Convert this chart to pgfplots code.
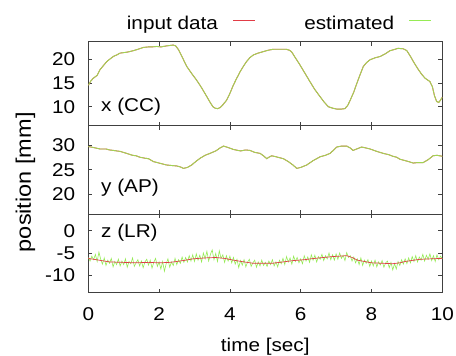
\documentclass[border=0pt]{standalone}
\usepackage{fontspec}
\setmainfont[FakeStretch=1.12]{Liberation Sans}
\usepackage{pgfplots}
\pgfplotsset{compat=1.18}
\newcommand\lbl{\fontsize{18.5bp}{22bp}\selectfont}
\newcommand\ylbl{\fontsize{21bp}{24bp}\selectfont}
\definecolor{inred}{RGB}{225,60,70}
\definecolor{estgreen}{RGB}{150,235,85}
\begin{document}
\begin{tikzpicture}
\useasboundingbox (0,0) rectangle (456bp,356bp);
\pgfplotsset{
  every axis/.append style={
    scale only axis, width=354bp, xmin=0, xmax=10, anchor=south west,
    axis line style={draw=black!75, line width=0.8bp},
    major tick style={draw=black!75, line width=0.8bp},
    major tick length=4bp, tick align=inside,
    xtick={0,2,...,10}, xtick pos=both, ytick pos=both,
    ticklabel style={font=\lbl},
    yticklabel style={anchor=east, inner sep=0pt, xshift=-13bp},
    xticklabel style={anchor=north, inner sep=0pt, yshift=-14.5bp},
    /pgf/number format/assume math mode=true,
  },
}
% panel 1: x (CC)
\begin{axis}[at={(88.3bp,230.3bp)}, height=84bp, ymin=6, ymax=23.7,
  ytick={10,15,20}, xticklabels={},
  legend columns=2, legend plot pos=right,
  legend style={at={(axis description cs:0.109,1.211)}, anchor=west, draw=none, fill=none,
    inner sep=0pt, outer sep=0pt, column sep=0pt, row sep=0pt,
    nodes={inner sep=0pt, font=\lbl}},
  legend image code/.code={\path (0bp,0bp); \draw[#1, opacity=1, line width=0.6bp] (14.7bp,0.32em) -- (36.7bp,0.32em);}]
\addplot[inred, line width=0.9bp] coordinates {
(0,14.5) (0.07,15.4) (0.14,16.0) (0.25,16.6) (0.33,17.8) (0.42,18.6) (0.52,19.5) (0.62,20.1) (0.71,20.6) (0.8,20.9) (0.9,21.3) (1.0,21.4) (1.1,21.5) (1.27,21.8) (1.4,22.1) (1.56,22.5) (1.7,22.6) (1.8,22.6) (1.93,22.7) (2.05,22.6) (2.2,22.8) (2.3,22.9) (2.4,23.0) (2.47,22.8) (2.55,22.0) (2.65,20.5) (2.78,18.5) (2.92,17.0) (3.06,15.6) (3.2,14.0) (3.35,12.1) (3.45,10.8) (3.52,10.0) (3.58,9.7) (3.65,9.6) (3.72,9.8) (3.8,10.4) (3.91,11.4) (4.0,12.8) (4.1,14.6) (4.2,16.1) (4.29,17.4) (4.38,18.5) (4.47,19.5) (4.56,20.3) (4.66,20.9) (4.8,21.3) (4.94,21.6) (5.08,21.9) (5.22,22.1) (5.4,22.1) (5.6,22.1) (5.68,21.9) (5.74,21.6) (5.85,20.3) (5.98,18.8) (6.1,17.3) (6.26,15.3) (6.4,13.6) (6.55,12.1) (6.66,11.0) (6.78,10.0) (6.9,9.7) (7.02,9.5) (7.15,9.5) (7.25,9.6) (7.33,10.3) (7.4,11.4) (7.5,13.1) (7.58,14.8) (7.68,16.8) (7.77,18.5) (7.86,19.3) (7.96,19.9) (8.1,20.3) (8.25,20.6) (8.4,21.2) (8.52,21.8) (8.62,22.0) (8.75,22.3) (8.9,22.2) (9.0,21.8) (9.1,20.6) (9.2,19.3) (9.3,18.1) (9.4,17.0) (9.5,16.1) (9.57,15.7) (9.65,15.3) (9.72,14.2) (9.78,12.3) (9.84,11.1) (9.9,10.9) (9.95,11.4) (10,12.0)
};
\addlegendentry{input data}
\addplot[estgreen, line width=0.9bp, opacity=0.88] coordinates {
(0,14.5) (0.07,15.4) (0.14,16.0) (0.25,16.6) (0.33,17.8) (0.42,18.6) (0.52,19.5) (0.62,20.1) (0.71,20.6) (0.8,20.9) (0.9,21.3) (1.0,21.4) (1.1,21.5) (1.27,21.8) (1.4,22.1) (1.56,22.5) (1.7,22.6) (1.8,22.6) (1.93,22.7) (2.05,22.6) (2.2,22.8) (2.3,22.9) (2.4,23.0) (2.47,22.8) (2.55,22.0) (2.65,20.5) (2.78,18.5) (2.92,17.0) (3.06,15.6) (3.2,14.0) (3.35,12.1) (3.45,10.8) (3.52,10.0) (3.58,9.7) (3.65,9.6) (3.72,9.8) (3.8,10.4) (3.91,11.4) (4.0,12.8) (4.1,14.6) (4.2,16.1) (4.29,17.4) (4.38,18.5) (4.47,19.5) (4.56,20.3) (4.66,20.9) (4.8,21.3) (4.94,21.6) (5.08,21.9) (5.22,22.1) (5.4,22.1) (5.6,22.1) (5.68,21.9) (5.74,21.6) (5.85,20.3) (5.98,18.8) (6.1,17.3) (6.26,15.3) (6.4,13.6) (6.55,12.1) (6.66,11.0) (6.78,10.0) (6.9,9.7) (7.02,9.5) (7.15,9.5) (7.25,9.6) (7.33,10.3) (7.4,11.4) (7.5,13.1) (7.58,14.8) (7.68,16.8) (7.77,18.5) (7.86,19.3) (7.96,19.9) (8.1,20.3) (8.25,20.6) (8.4,21.2) (8.52,21.8) (8.62,22.0) (8.75,22.3) (8.9,22.2) (9.0,21.8) (9.1,20.6) (9.2,19.3) (9.3,18.1) (9.4,17.0) (9.5,16.1) (9.57,15.7) (9.65,15.3) (9.72,14.2) (9.78,12.3) (9.84,11.1) (9.9,10.9) (9.95,11.4) (10,12.0)
};
\addlegendentry{\hspace{49bp}estimated}
\node[anchor=west, inner sep=0pt, font=\lbl] at (axis cs:0.36,10) {x (CC)};
\end{axis}
% panel 2: y (AP)
\begin{axis}[at={(88.3bp,142bp)}, height=88.3bp, ymin=15.9, ymax=34.1,
  ytick={20,25,30}, xticklabels={},
  ylabel={position [mm]},
  ylabel style={at={(axis description cs:-0.162,0.36)}, anchor=base, font=\ylbl, inner sep=0pt}]
\addplot[inred, line width=0.9bp] coordinates {
(0,29.8) (0.15,29.6) (0.33,29.3) (0.5,29.3) (0.6,29.1) (0.71,29.0) (0.9,28.8) (1.08,28.4) (1.25,28.0) (1.35,27.9) (1.46,27.6) (1.6,27.4) (1.7,27.3) (1.84,26.7) (2.0,26.4) (2.21,26.0) (2.35,25.9) (2.5,25.8) (2.6,25.6) (2.69,25.3) (2.8,25.5) (2.92,26.0) (3.05,26.8) (3.16,27.4) (3.3,28.0) (3.44,28.4) (3.6,28.9) (3.72,29.5) (3.82,29.9) (3.95,29.6) (4.1,29.2) (4.3,28.9) (4.45,29.1) (4.57,29.0) (4.7,28.6) (4.85,28.4) (4.95,27.9) (5.04,27.3) (5.1,27.6) (5.18,27.9) (5.3,27.7) (5.51,27.3) (5.65,26.7) (5.78,26.0) (5.89,25.3) (6.0,25.5) (6.17,26.0) (6.35,26.9) (6.55,27.7) (6.7,28.0) (6.83,28.4) (6.92,29.0) (7.02,29.7) (7.15,29.9) (7.3,29.9) (7.4,29.5) (7.48,29.0) (7.58,29.3) (7.72,29.7) (7.85,29.5) (7.96,29.3) (8.15,28.8) (8.33,28.4) (8.5,28.1) (8.6,27.8) (8.71,27.6) (8.8,27.2) (8.9,27.0) (9.05,26.7) (9.18,26.4) (9.3,26.5) (9.46,26.5) (9.6,27.1) (9.74,27.9) (9.85,28.0) (10,27.8)
};
\addplot[estgreen, line width=0.9bp, opacity=0.88] coordinates {
(0,29.8) (0.15,29.6) (0.33,29.3) (0.5,29.3) (0.6,29.1) (0.71,29.0) (0.9,28.8) (1.08,28.4) (1.25,28.0) (1.35,27.9) (1.46,27.6) (1.6,27.4) (1.7,27.3) (1.84,26.7) (2.0,26.4) (2.21,26.0) (2.35,25.9) (2.5,25.8) (2.6,25.6) (2.69,25.3) (2.8,25.5) (2.92,26.0) (3.05,26.8) (3.16,27.4) (3.3,28.0) (3.44,28.4) (3.6,28.9) (3.72,29.5) (3.82,29.9) (3.95,29.6) (4.1,29.2) (4.3,28.9) (4.45,29.1) (4.57,29.0) (4.7,28.6) (4.85,28.4) (4.95,27.9) (5.04,27.3) (5.1,27.6) (5.18,27.9) (5.3,27.7) (5.51,27.3) (5.65,26.7) (5.78,26.0) (5.89,25.3) (6.0,25.5) (6.17,26.0) (6.35,26.9) (6.55,27.7) (6.7,28.0) (6.83,28.4) (6.92,29.0) (7.02,29.7) (7.15,29.9) (7.3,29.9) (7.4,29.5) (7.48,29.0) (7.58,29.3) (7.72,29.7) (7.85,29.5) (7.96,29.3) (8.15,28.8) (8.33,28.4) (8.5,28.1) (8.6,27.8) (8.71,27.6) (8.8,27.2) (8.9,27.0) (9.05,26.7) (9.18,26.4) (9.3,26.5) (9.46,26.5) (9.6,27.1) (9.74,27.9) (9.85,28.0) (10,27.8)
};
\node[anchor=west, inner sep=0pt, font=\lbl] at (axis cs:0.36,21.3) {y (AP)};
\end{axis}
% panel 3: z (LR)
\begin{axis}[at={(88.3bp,63.3bp)}, height=78.7bp, ymin=-13.9, ymax=3.75,
  ytick={-10,-5,0}, yticklabels={-10,-5,0},
  xlabel={time [sec]},
  xlabel style={at={(axis description cs:0.5,-0.75)}, anchor=base, font=\lbl, inner sep=0pt}]
\addplot[estgreen, line width=0.6bp] coordinates {
(0.00,-6.0) (0.05,-6.8) (0.10,-5.7) (0.15,-6.5) (0.20,-5.3) (0.25,-6.9) (0.30,-4.8) (0.35,-6.4) (0.40,-7.5) (0.45,-6.1) (0.50,-7.8) (0.55,-6.6) (0.60,-7.3) (0.65,-6.2) (0.70,-8.1) (0.75,-6.9) (0.80,-7.6) (0.85,-6.4) (0.90,-7.9) (0.95,-6.8)
(1.00,-7.6) (1.05,-6.3) (1.10,-8.2) (1.15,-6.9) (1.20,-7.4) (1.25,-6.1) (1.30,-8.0) (1.35,-7.2) (1.40,-6.5) (1.45,-7.9) (1.50,-6.8) (1.55,-8.3) (1.60,-7.0) (1.65,-6.4) (1.70,-7.7) (1.75,-6.6) (1.80,-8.4) (1.85,-7.1) (1.90,-6.2) (1.95,-8.0)
(2.00,-7.0) (2.05,-8.6) (2.10,-6.9) (2.15,-9.1) (2.20,-7.4) (2.25,-6.3) (2.30,-8.2) (2.35,-7.0) (2.40,-7.8) (2.45,-6.2) (2.50,-7.6) (2.55,-6.5) (2.60,-7.3) (2.65,-5.9) (2.70,-7.1) (2.75,-6.0) (2.80,-7.0) (2.85,-5.6) (2.90,-6.8) (2.95,-5.4)
(3.00,-6.9) (3.05,-5.2) (3.10,-6.6) (3.15,-5.5) (3.20,-7.0) (3.25,-5.0) (3.30,-6.3) (3.35,-4.6) (3.40,-6.8) (3.45,-5.3) (3.50,-4.3) (3.55,-6.5) (3.60,-5.1) (3.65,-6.9) (3.70,-4.5) (3.75,-6.2) (3.80,-5.4) (3.85,-7.1) (3.90,-5.6) (3.95,-6.8)
(4.00,-5.7) (4.05,-7.2) (4.10,-6.0) (4.15,-7.5) (4.20,-6.4) (4.25,-8.3) (4.30,-6.7) (4.35,-7.7) (4.40,-6.5) (4.45,-8.1) (4.50,-7.0) (4.55,-6.4) (4.60,-8.0) (4.65,-7.2) (4.70,-6.6) (4.75,-8.2) (4.80,-7.0) (4.85,-7.9) (4.90,-6.6) (4.95,-7.8)
(5.00,-7.1) (5.05,-8.0) (5.10,-6.8) (5.15,-7.6) (5.20,-6.5) (5.25,-7.9) (5.30,-7.0) (5.35,-8.1) (5.40,-6.6) (5.45,-7.4) (5.50,-6.2) (5.55,-7.6) (5.60,-5.8) (5.65,-7.0) (5.70,-6.1) (5.75,-7.5) (5.80,-5.7) (5.85,-6.9) (5.90,-6.0) (5.95,-7.2)
(6.00,-6.3) (6.05,-7.4) (6.10,-5.6) (6.15,-6.8) (6.20,-5.9) (6.25,-7.1) (6.30,-5.4) (6.35,-6.6) (6.40,-5.5) (6.45,-7.0) (6.50,-5.8) (6.55,-6.4) (6.60,-5.3) (6.65,-6.7) (6.70,-5.6) (6.75,-6.3) (6.80,-5.0) (6.85,-6.5) (6.90,-5.4) (6.95,-6.6)
(7.00,-5.2) (7.05,-6.4) (7.10,-5.0) (7.15,-6.2) (7.20,-5.5) (7.25,-6.7) (7.30,-4.9) (7.35,-6.0) (7.40,-5.6) (7.45,-6.8) (7.50,-5.9) (7.55,-7.2) (7.60,-6.3) (7.65,-7.6) (7.70,-6.1) (7.75,-7.8) (7.80,-6.6) (7.85,-7.3) (7.90,-6.5) (7.95,-8.0)
(8.00,-6.8) (8.05,-7.9) (8.10,-6.6) (8.15,-8.1) (8.20,-7.0) (8.25,-7.7) (8.30,-6.7) (8.35,-8.2) (8.40,-7.2) (8.45,-6.8) (8.50,-8.3) (8.55,-7.1) (8.60,-8.8) (8.65,-7.4) (8.70,-8.6) (8.75,-6.9) (8.80,-7.8) (8.85,-6.5) (8.90,-7.5) (8.95,-6.3)
(9.00,-7.4) (9.05,-6.1) (9.10,-7.2) (9.15,-5.8) (9.20,-6.9) (9.25,-5.6) (9.30,-7.0) (9.35,-5.9) (9.40,-6.6) (9.45,-5.3) (9.50,-6.8) (9.55,-5.5) (9.60,-6.4) (9.65,-5.2) (9.70,-6.7) (9.75,-5.6) (9.80,-6.9) (9.85,-5.4) (9.90,-6.5) (9.95,-5.7) (10.00,-6.3)
};
\addplot[inred, line width=0.7bp] coordinates {
(0,-6.2) (0.3,-6.6) (0.6,-7.0) (1.0,-7.1) (1.3,-7.2) (1.7,-7.1) (2.0,-7.2) (2.3,-7.1) (2.5,-6.9) (2.75,-6.6) (2.96,-6.3) (3.3,-6.1) (3.6,-6.0) (3.85,-6.2) (4.1,-6.6) (4.4,-7.0) (4.66,-7.3) (4.9,-7.3) (5.2,-7.3) (5.5,-7.0) (5.79,-6.7) (6.1,-6.5) (6.4,-6.2) (6.65,-6.0) (6.9,-5.8) (7.1,-5.7) (7.3,-5.6) (7.45,-6.0) (7.6,-6.6) (7.8,-6.9) (8.0,-7.2) (8.3,-7.3) (8.6,-7.4) (8.8,-7.2) (8.95,-6.9) (9.2,-6.6) (9.38,-6.4) (9.7,-6.3) (10,-6.2)
};
\node[anchor=west, inner sep=0pt, font=\lbl] at (axis cs:0.36,-0.5) {z (LR)};
\end{axis}
\end{tikzpicture}
\end{document}
